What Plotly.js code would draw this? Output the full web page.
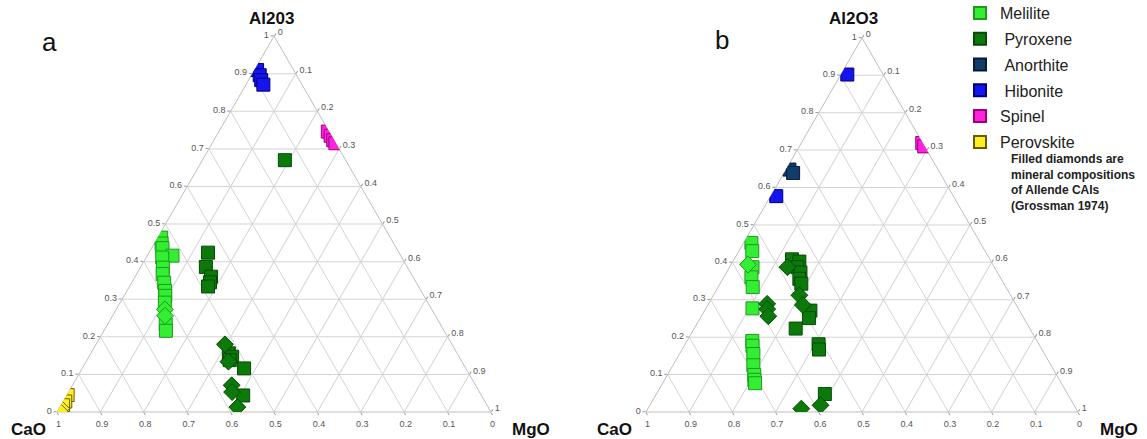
<!DOCTYPE html>
<html>
<head>
<meta charset="utf-8">
<script src="https://cdn.plot.ly/plotly-3.0.1.min.js"></script>
<style>html,body{margin:0;padding:0;background:#fff;}#chart{width:1147px;height:439px;}</style>
</head>
<body>
<div id="chart"></div>
<script>
// ---------- Panel a data (Al2O3, CaO, MgO fractions) ----------
const aHibAl = [0.910, 0.896, 0.883, 0.871];
const aHibCa = [0.084, 0.085, 0.088, 0.089];
const aHibMg = [0.006, 0.019, 0.029, 0.040];

const aSpiAl = [0.746, 0.735, 0.723, 0.715];
const aSpiCa = [0.003, 0.002, 0.002, 0.001];
const aSpiMg = [0.251, 0.263, 0.275, 0.284];

const aPyxSqAl = [0.670, 0.424, 0.386, 0.360, 0.345, 0.334, 0.156, 0.147, 0.138, 0.116, 0.044];
const aPyxSqCa = [0.140, 0.440, 0.464, 0.465, 0.475, 0.485, 0.526, 0.523, 0.533, 0.511, 0.549];
const aPyxSqMg = [0.190, 0.136, 0.150, 0.175, 0.180, 0.181, 0.318, 0.330, 0.329, 0.373, 0.407];

const aPyxDiAl = [0.180, 0.134, 0.071, 0.053, 0.013];
const aPyxDiCa = [0.523, 0.538, 0.562, 0.570, 0.578];
const aPyxDiMg = [0.297, 0.328, 0.367, 0.377, 0.409];

const aMelSqAl = [0.464, 0.448, 0.436, 0.416, 0.411, 0.384, 0.367, 0.344, 0.322, 0.309, 0.291, 0.233, 0.216];
const aMelSqCa = [0.528, 0.535, 0.539, 0.526, 0.552, 0.564, 0.573, 0.581, 0.590, 0.596, 0.606, 0.633, 0.641];
const aMelSqMg = [0.008, 0.017, 0.025, 0.058, 0.037, 0.052, 0.060, 0.075, 0.088, 0.095, 0.103, 0.134, 0.143];

const aMelDiAl = [0.273, 0.256];
const aMelDiCa = [0.615, 0.623];
const aMelDiMg = [0.112, 0.121];

const aPerSqAl = [0.045, 0.028, 0.018];
const aPerSqCa = [0.953, 0.967, 0.977];
const aPerSqMg = [0.002, 0.005, 0.005];

const aPerDiAl = [0.009, 0.002];
const aPerDiCa = [0.986, 0.993];
const aPerDiMg = [0.005, 0.005];

// ---------- Panel b data ----------
const bHibAl = [0.902, 0.577];
const bHibCa = [0.083, 0.410];
const bHibMg = [0.015, 0.013];

const bSpiAl = [0.719, 0.710];
const bSpiCa = [0.001, 0.001];
const bSpiMg = [0.280, 0.289];

const bAnoAl = [0.648, 0.639];
const bAnoCa = [0.344, 0.340];
const bAnoMg = [0.008, 0.021];

const bMelSqAl = [0.452, 0.430, 0.387, 0.360, 0.334, 0.277, 0.190, 0.177, 0.155, 0.125, 0.099, 0.086, 0.077];
const bMelSqCa = [0.530, 0.539, 0.560, 0.576, 0.586, 0.615, 0.659, 0.665, 0.674, 0.689, 0.700, 0.706, 0.709];
const bMelSqMg = [0.018, 0.031, 0.053, 0.064, 0.080, 0.108, 0.151, 0.158, 0.171, 0.186, 0.201, 0.208, 0.214];

const bMelDiAl = [0.394];
const bMelDiCa = [0.567];
const bMelDiMg = [0.039];

const bPyxSqAl = [0.408, 0.402, 0.387, 0.373, 0.356, 0.343, 0.271, 0.251, 0.223, 0.181, 0.167, 0.048];
const bPyxSqCa = [0.458, 0.444, 0.456, 0.456, 0.467, 0.469, 0.484, 0.497, 0.542, 0.510, 0.516, 0.562];
const bPyxSqMg = [0.134, 0.154, 0.157, 0.171, 0.177, 0.188, 0.245, 0.252, 0.235, 0.309, 0.317, 0.390];

const bPyxDiAl = [0.387, 0.312, 0.286, 0.018, 0.009, 0.289, 0.275, 0.256];
const bPyxDiCa = [0.479, 0.489, 0.494, 0.587, 0.636, 0.575, 0.582, 0.589];
const bPyxDiMg = [0.134, 0.199, 0.220, 0.395, 0.355, 0.136, 0.143, 0.155];

// ---------- Styles ----------
const FONT = 'Liberation Sans, Arial, Helvetica, sans-serif';
const minerals = {
  Melilite:   {fill: '#33ee33', line: '#1f9a1f', rank: 1, label: 'Melilite'},
  Pyroxene:   {fill: '#0b7a0b', line: '#064a06', rank: 2, label: '\u00A0Pyroxene'},
  Anorthite:  {fill: '#123c6c', line: '#061a36', rank: 3, label: '\u00A0Anorthite'},
  Hibonite:   {fill: '#1414ee', line: '#00007a', rank: 4, label: '\u00A0Hibonite'},
  Spinel:     {fill: '#ff22dd', line: '#99007a', rank: 5, label: 'Spinel'},
  Perovskite: {fill: '#ffee22', line: '#6a5a00', rank: 6, label: 'Perovskite'}
};

function tr(subplot, mineral, symbol, A, B, C, showlegend) {
  const m = minerals[mineral];
  return {
    type: 'scatterternary', mode: 'markers', subplot: subplot,
    a: A, b: B, c: C,
    name: m.label, legendgroup: mineral, legendrank: m.rank,
    showlegend: !!showlegend,
    marker: {symbol: symbol, size: 13, color: m.fill,
             line: {color: m.line, width: 1}},
    hovertemplate: mineral + '<br>Al2O3 %{a}<br>CaO %{b}<br>MgO %{c}<extra></extra>'
  };
}

const traces = [
  tr('ternary', 'Melilite', 'square', aMelSqAl, aMelSqCa, aMelSqMg),
  tr('ternary', 'Melilite', 'diamond', aMelDiAl, aMelDiCa, aMelDiMg),
  tr('ternary', 'Pyroxene', 'square', aPyxSqAl, aPyxSqCa, aPyxSqMg),
  tr('ternary', 'Pyroxene', 'diamond', aPyxDiAl, aPyxDiCa, aPyxDiMg),
  tr('ternary', 'Hibonite', 'square', aHibAl, aHibCa, aHibMg),
  tr('ternary', 'Spinel', 'square', aSpiAl, aSpiCa, aSpiMg),
  tr('ternary', 'Perovskite', 'square', aPerSqAl, aPerSqCa, aPerSqMg, true),
  tr('ternary', 'Perovskite', 'diamond', aPerDiAl, aPerDiCa, aPerDiMg),

  tr('ternary2', 'Melilite', 'square', bMelSqAl, bMelSqCa, bMelSqMg, true),
  tr('ternary2', 'Melilite', 'diamond', bMelDiAl, bMelDiCa, bMelDiMg),
  tr('ternary2', 'Pyroxene', 'square', bPyxSqAl, bPyxSqCa, bPyxSqMg, true),
  tr('ternary2', 'Pyroxene', 'diamond', bPyxDiAl, bPyxDiCa, bPyxDiMg),
  tr('ternary2', 'Anorthite', 'square', bAnoAl, bAnoCa, bAnoMg, true),
  tr('ternary2', 'Hibonite', 'square', bHibAl, bHibCa, bHibMg, true),
  tr('ternary2', 'Spinel', 'square', bSpiAl, bSpiCa, bSpiMg, true)
];

function axis() {
  return {
    title: {text: ''},
    min: 0, tick0: 0, dtick: 0.1, ticks: 'outside', ticklen: 3, tickwidth: 1, tickcolor: '#999',
    tickfont: {family: FONT, size: 9, color: '#555'},
    showgrid: true, gridcolor: '#d4d4d4', gridwidth: 1,
    showline: true, linecolor: '#bdbdbd', linewidth: 1,
    layer: 'below traces'
  };
}

const W = 1147, H = 439;
function dom(left, right, bottom, top) {
  return {x: [left / W, right / W], y: [1 - bottom / H, 1 - top / H]};
}
function label(text, xpx, ypx, size, bold) {
  return {text: bold ? '<b>' + text + '</b>' : text, x: xpx / W, y: 1 - ypx / H,
          xref: 'paper', yref: 'paper', showarrow: false, xanchor: 'center', yanchor: 'middle',
          font: {family: FONT, size: size, color: '#111'}};
}
const sideA = 434, sideB = 432;
const layout = {
  width: W, height: H,
  margin: {l: 0, r: 0, t: 0, b: 0, autoexpand: false},
  paper_bgcolor: '#fff',
  font: {family: FONT},
  ternary: {
    domain: dom(57, 57 + sideA, 412, 412 - sideA * Math.sqrt(3) / 2),
    sum: 1, bgcolor: 'rgba(0,0,0,0)',
    aaxis: axis(), baxis: axis(), caxis: axis()
  },
  ternary2: {
    domain: dom(862 - sideB / 2, 862 + sideB / 2, 412, 412 - sideB * Math.sqrt(3) / 2),
    sum: 1, bgcolor: 'rgba(0,0,0,0)',
    aaxis: axis(), baxis: axis(), caxis: axis()
  },
  showlegend: true,
  legend: {
    x: 960 / W, y: 1 + 4 / H, xanchor: 'left', yanchor: 'top',
    font: {family: FONT, size: 16, color: '#222'},
    bgcolor: 'rgba(0,0,0,0)', borderwidth: 0,
    itemsizing: 'constant', tracegroupgap: 2, traceorder: 'grouped'
  },
  annotations: [
    label('a', 49, 42, 26, false),
    label('b', 722, 40, 26, false),
    label('Al203', 271, 19, 17, true),
    label('Al2O3', 853, 19, 17, true),
    label('CaO', 28, 429, 17, true),
    label('MgO', 531, 429, 17, true),
    label('CaO', 614, 429, 17, true),
    label('MgO', 1119, 429, 17, true),
    {text: '<b>Filled diamonds are<br>mineral compositions<br>of Allende CAIs<br>(Grossman 1974)</b>',
     x: 1009 / W, y: 1 - 150 / H, xref: 'paper', yref: 'paper', showarrow: false, align: 'left',
     font: {family: FONT, size: 12, color: '#222'}, xanchor: 'left', yanchor: 'top'}
  ]
};

Plotly.newPlot('chart', traces, layout, {displayModeBar: false, staticPlot: true});
</script>
</body>
</html>
